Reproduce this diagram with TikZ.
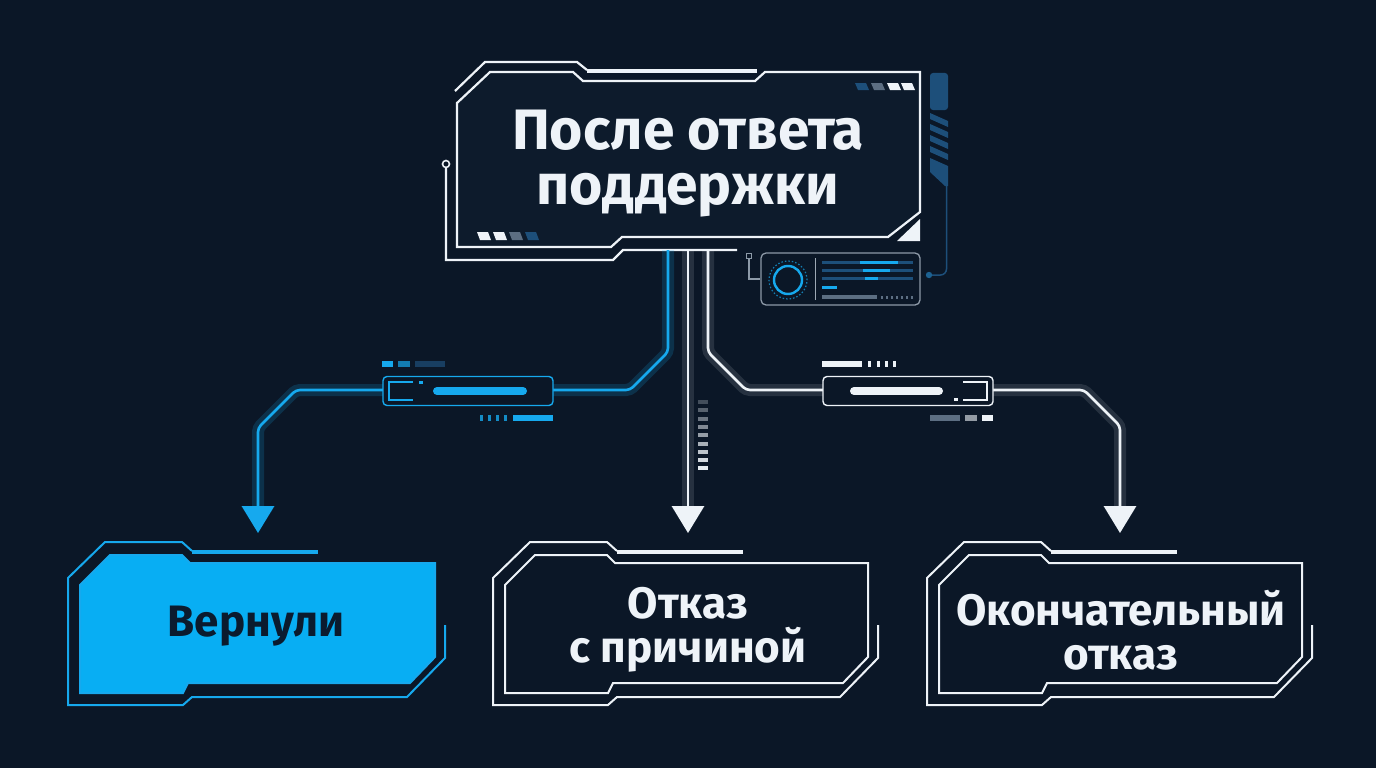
\documentclass[tikz,border=0pt]{standalone}
\usepackage{fontspec}
\setmainfont{Fira Sans}
\usetikzlibrary{arrows.meta}
\definecolor{bgnavy}{HTML}{0B1727}
\definecolor{panelnavy}{HTML}{0D1B2C}
\definecolor{hudblue}{HTML}{16A9EE}
\definecolor{fillblue}{HTML}{08AEF3}
\definecolor{hudwhite}{HTML}{EEF3F8}
\definecolor{hudgrey}{HTML}{5C6E82}
\definecolor{hudsteel}{HTML}{1D4F7A}
\definecolor{inknavy}{HTML}{0B1B2E}
\tikzset{
  hudframe/.style={draw=hudwhite, line width=2.2pt},
  wire/.style={line width=2.6pt, rounded corners=4pt, -{Triangle[width=32pt,length=27pt]}},
  wireblue/.style={wire, draw=hudblue, preaction={draw=hudblue, line width=12pt, opacity=0.18}},
  wirewhite/.style={wire, draw=hudwhite, preaction={draw=hudwhite, line width=12pt, opacity=0.12}},
  gauge/.style={draw, line width=1.4pt, fill=bgnavy, rounded corners=4pt, minimum width=170pt, minimum height=29pt, inner sep=0pt},
  choice/.style={align=center, text=hudwhite, font=\bfseries\fontsize{44}{44}\selectfont},
}
% plate: left x, right x, line colour, inner fill
\newcommand{\hudplate}[4]{%
  \filldraw[draw=#3, line width=2pt, fill=#4] (#1+12,585) -- (#1+42,555) -- (#1+114,555) -- (#1+122,563) -- (#2-10,563) -- (#2-10,657) -- (#2-35,683) -- (#1+120,683) -- (#1+115,693) -- (#1+12,693) -- cycle;
  \draw[#3, line width=2pt] (#2,625) -- (#2,658) -- (#2-38,697) -- (#1+124,697) -- (#1+115,705) -- (#1,705) -- (#1,578) -- (#1+37,542) -- (#1+114,542) -- (#1+124,551);
  \draw[#3, line width=4.5pt] (#1+124,552) -- (#1+250,552);
}
\begin{document}
\begin{tikzpicture}[x=1pt, y=-1pt]
  \fill[bgnavy] (0,0) rectangle (1376,768);
  \useasboundingbox (0,0) rectangle (1376,768);

  % Title plate
  \filldraw[hudframe, fill=panelnavy] (457,103) -- (490,72) -- (573,72) -- (583,81) -- (755,81) -- (765,72) -- (920,72) -- (920,212) -- (888,237) -- (622,237) -- (611,247) -- (457,247) -- cycle;
  \draw[hudframe] (455,91) -- (485,62) -- (577,62) -- (587,70);
  \draw[hudwhite, line width=4.5pt] (587,71) -- (757,71);
  \draw[hudframe] (446,167) -- (446,260) -- (613,260) -- (623,250) -- (737,250);
  \draw[hudwhite, line width=1.6pt, fill=bgnavy] (446,164) circle[radius=3.5pt];
  \fill[hudwhite] (897,241) -- (920,219) -- (920,241) -- cycle;
  \foreach \x/\c in {855/hudsteel, 871/hudgrey, 887/hudwhite, 901/hudwhite}
    \fill[\c] (\x,83) -- (\x+11,83) -- (\x+14,90) -- (\x+3,90) -- cycle;
  \foreach \x/\c in {477/hudwhite, 493/hudwhite, 509/hudgrey, 525/hudsteel}
    \fill[\c] (\x,232) -- (\x+11,232) -- (\x+14,240) -- (\x+3,240) -- cycle;
  \node[font=\bfseries\fontsize{57}{55}\selectfont, text=hudwhite, align=center] (title) at (688,164) {После ответа\\поддержки};

  % Side strip
  \fill[hudsteel, rounded corners=3pt] (930,73) rectangle (948,110);
  \foreach \i in {0,...,3}
    \fill[hudsteel] (930,113+11*\i) -- (948,121+11*\i) -- (948,127+11*\i) -- (930,119+11*\i) -- cycle;
  \fill[hudsteel] (930,158) -- (948,166) -- (948,186) -- (945,186) -- (930,172) -- cycle;
  \draw[hudsteel, line width=1.5pt, rounded corners=6pt] (946.5,186) -- (946.5,275) -- (931,275);
  \fill[hudsteel!80!hudblue] (929,275) circle[radius=3.2pt];

  % Monitor panel
  \node[draw=hudgrey!70!white, line width=1.3pt, fill=bgnavy, rounded corners=5pt, minimum width=159pt, minimum height=52pt, inner sep=0pt] (monitor) at (840.5,279) {};
  \draw[hudgrey!70!white, line width=1pt] (746.5,253.5) rectangle (751.5,258.5);
  \draw[hudgrey!70!white, line width=1.2pt] (749,258.5) |- (monitor.west);
  \draw[hudblue, line width=2.4pt] (788,280) circle[radius=14pt];
  \draw[hudblue!70!bgnavy, line width=1.2pt, dash pattern=on 1.5pt off 2pt] (788,280) circle[radius=19pt];
  \draw[hudgrey!60!white, line width=1pt] (815,258) -- (815,300);
  \foreach \y/\a/\b in {262/860/898, 270/863/890, 278/865/878} {
    \draw[hudsteel, line width=3pt] (822,\y) -- (913,\y);
    \draw[hudblue, line width=3pt] (\a,\y) -- (\b,\y);
  }
  \draw[hudblue, line width=3pt] (822,287) -- (837,287);
  \draw[hudgrey, line width=4pt] (822,297) -- (877,297);
  \foreach \x in {881,886,...,911}
    \draw[hudgrey, line width=3pt] (\x,297) -- (\x+2,297);

  % Connectors
  \coordinate (srcL) at (668,250);
  \coordinate (srcM) at (688,250);
  \coordinate (srcR) at (708,250);
  \coordinate (tipL) at (258,533);
  \coordinate (tipM) at (688,533);
  \coordinate (tipR) at (1120,533);
  \draw[wireblue] (srcL) -- (668,352) -- (630,390) -- (296,390) -- (258,428) -- (tipL);
  \draw[wirewhite] (srcM) -- (tipM);
  \draw[wirewhite] (srcR) -- (708,352) -- (746,390) -- (1084,390) -- (1120,426) -- (tipR);

  % Gauges on the connectors
  \node[gauge, draw=hudblue] (gaugeL) at (468,391) {};
  \draw[hudblue, line width=1.2pt] (413,382) -- (389,382) -- (389,400) -- (413,400);
  \fill[hudblue] (419,381) rectangle (423,384);
  \draw[hudblue, line width=8pt, line cap=round] (437,391) -- (523,391);
  \fill[hudblue] (382,361) rectangle (393,367);
  \fill[hudblue!70!bgnavy] (398,361) rectangle (410,367);
  \fill[hudsteel!70!bgnavy] (415,361) rectangle (445,367);
  \foreach \x in {480,488,496,504}
    \fill[hudblue!80!bgnavy] (\x,415) rectangle (\x+3,421);
  \fill[hudblue] (513,415) rectangle (553,421);

  \node[gauge, draw=hudwhite] (gaugeR) at (908,391) {};
  \draw[hudwhite, line width=1.2pt] (963,382) -- (987,382) -- (987,400) -- (963,400);
  \fill[hudwhite] (954,398) rectangle (958,401);
  \draw[hudwhite, line width=8pt, line cap=round] (854,391) -- (939,391);
  \fill[hudwhite] (822,361) rectangle (862,367);
  \foreach \x in {868,877,885,893}
    \fill[hudwhite] (\x,361) rectangle (\x+3,367);
  \fill[hudgrey] (930,415) rectangle (960,421);
  \fill[hudwhite!60!bgnavy] (965,415) rectangle (977,421);
  \fill[hudwhite] (982,415) rectangle (993,421);

  \foreach \i [evaluate=\i as \op using 0.25+0.09*\i] in {0,...,8}
    \fill[hudwhite, opacity=\op] (698,400+8.3*\i) rectangle (708,404+8.3*\i);

  % Outcome plates
  \hudplate{68}{445}{hudblue}{fillblue}
  \hudplate{493}{878}{hudwhite}{bgnavy}
  \hudplate{927}{1312}{hudwhite}{bgnavy}
  \node[choice, text=inknavy] (back) at (256,626) {Вернули};
  \node[choice] (reason) at (688,630) {Отказ\\с причиной};
  \node[choice] (final) at (1121,630) {Окончательный\\отказ};
\end{tikzpicture}
\end{document}
